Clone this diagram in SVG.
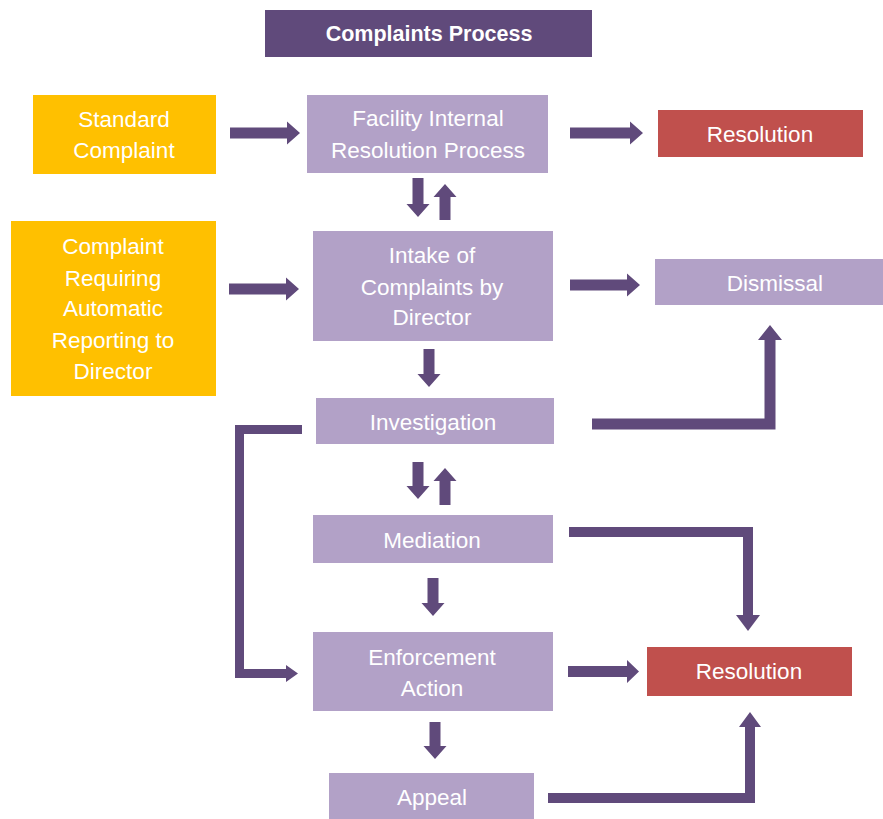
<svg xmlns="http://www.w3.org/2000/svg" width="883" height="819" viewBox="0 0 883 819">
<style>
  .lav { fill: #b2a1c7; }
  .org { fill: #ffc000; }
  .red { fill: #c0504d; }
  .ttl { fill: #604a7b; }
  .t { font-family: "Liberation Sans", Arial, sans-serif; font-size: 22.5px; fill: #ffffff; text-anchor: middle; dominant-baseline: central; }
  .tb { font-weight: bold; font-size: 21.5px; }
  .arr { fill: #604a7b; }
</style>
<rect width="883" height="819" fill="#ffffff"/>

<g id="title">
  <rect class="ttl" x="265" y="10" width="327" height="47"/>
  <text class="t tb" x="429" y="34">Complaints Process</text>
</g>

<g id="standard">
  <rect class="org" x="33" y="95" width="183" height="79"/>
  <text class="t" x="124" y="119">Standard</text>
  <text class="t" x="124" y="150">Complaint</text>
</g>

<g id="facility">
  <rect class="lav" x="307" y="95" width="241" height="78"/>
  <text class="t" x="428" y="118">Facility Internal</text>
  <text class="t" x="428" y="150">Resolution Process</text>
</g>

<g id="resolution1">
  <rect class="red" x="658" y="110" width="205" height="47"/>
  <text class="t" x="760" y="134">Resolution</text>
</g>

<g id="requiring">
  <rect class="org" x="11" y="221" width="205" height="175"/>
  <text class="t" x="113" y="246">Complaint</text>
  <text class="t" x="113" y="278">Requiring</text>
  <text class="t" x="113" y="308">Automatic</text>
  <text class="t" x="113" y="340">Reporting to</text>
  <text class="t" x="113" y="371">Director</text>
</g>

<g id="intake">
  <rect class="lav" x="313" y="231" width="240" height="110"/>
  <text class="t" x="432" y="255">Intake of</text>
  <text class="t" x="432" y="287">Complaints by</text>
  <text class="t" x="432" y="317">Director</text>
</g>

<g id="dismissal">
  <rect class="lav" x="655" y="259" width="228" height="46"/>
  <text class="t" x="775" y="283">Dismissal</text>
</g>

<g id="investigation">
  <rect class="lav" x="316" y="398" width="238" height="46"/>
  <text class="t" x="433" y="422">Investigation</text>
</g>

<g id="mediation">
  <rect class="lav" x="313" y="515" width="240" height="48"/>
  <text class="t" x="432" y="540">Mediation</text>
</g>

<g id="enforcement">
  <rect class="lav" x="313" y="632" width="240" height="79"/>
  <text class="t" x="432" y="657">Enforcement</text>
  <text class="t" x="432" y="688">Action</text>
</g>

<g id="resolution2">
  <rect class="red" x="647" y="647" width="205" height="49"/>
  <text class="t" x="749" y="671">Resolution</text>
</g>

<g id="appeal">
  <rect class="lav" x="329" y="773" width="205" height="50"/>
  <text class="t" x="432" y="797">Appeal</text>
</g>

<g id="connectors">
  <path class="arr" d="M230,127.5 H287 V121.5 L300,133 L287,144.5 V138.5 H230 Z"/>
  <path class="arr" d="M570,127.5 H630 V121.5 L643,133 L630,144.5 V138.5 H570 Z"/>
  <path class="arr" d="M229,283.5 H286 V277.5 L299,289 L286,300.5 V294.5 H229 Z"/>
  <path class="arr" d="M570,279.5 H627 V273.5 L640,285 L627,296.5 V290.5 H570 Z"/>
  <path class="arr" d="M568,666 H627 V660 L639,671.5 L627,683 V677 H568 Z"/>

  <path class="arr" d="M412.5,178 H423.5 V204 H429.5 L418,217 L406.5,204 H412.5 Z"/>
  <path class="arr" d="M439.5,220 H450.5 V197 H456.5 L445,184 L433.5,197 H439.5 Z"/>
  <path class="arr" d="M423.5,349 H434.5 V374 H440.5 L429,387 L417.5,374 H423.5 Z"/>
  <path class="arr" d="M412.5,462 H423.5 V486 H429.5 L418,499 L406.5,486 H412.5 Z"/>
  <path class="arr" d="M439.5,505 H450.5 V481 H456.5 L445,468 L433.5,481 H439.5 Z"/>
  <path class="arr" d="M427.5,578 H438.5 V603 H444.5 L433,616 L421.5,603 H427.5 Z"/>
  <path class="arr" d="M429.5,722 H440.5 V746 H446.5 L435,759 L423.5,746 H429.5 Z"/>

  <path class="arr" d="M592,418.5 H764.5 V340 H758 L770,325 L782,340 H775.5 V429.5 H592 Z"/>
  <path class="arr" d="M569,527 H753 V615 H760 L748,631 L736,615 H743 V537 H569 Z"/>
  <path class="arr" d="M548,793 H745 V727 H739 L750,712 L761,727 H755 V803 H548 Z"/>
  <path class="arr" d="M302,425 H235 V678 H286 V682 L298,673.5 L286,665 V669 H244 V434 H302 Z"/>
</g>
</svg>
